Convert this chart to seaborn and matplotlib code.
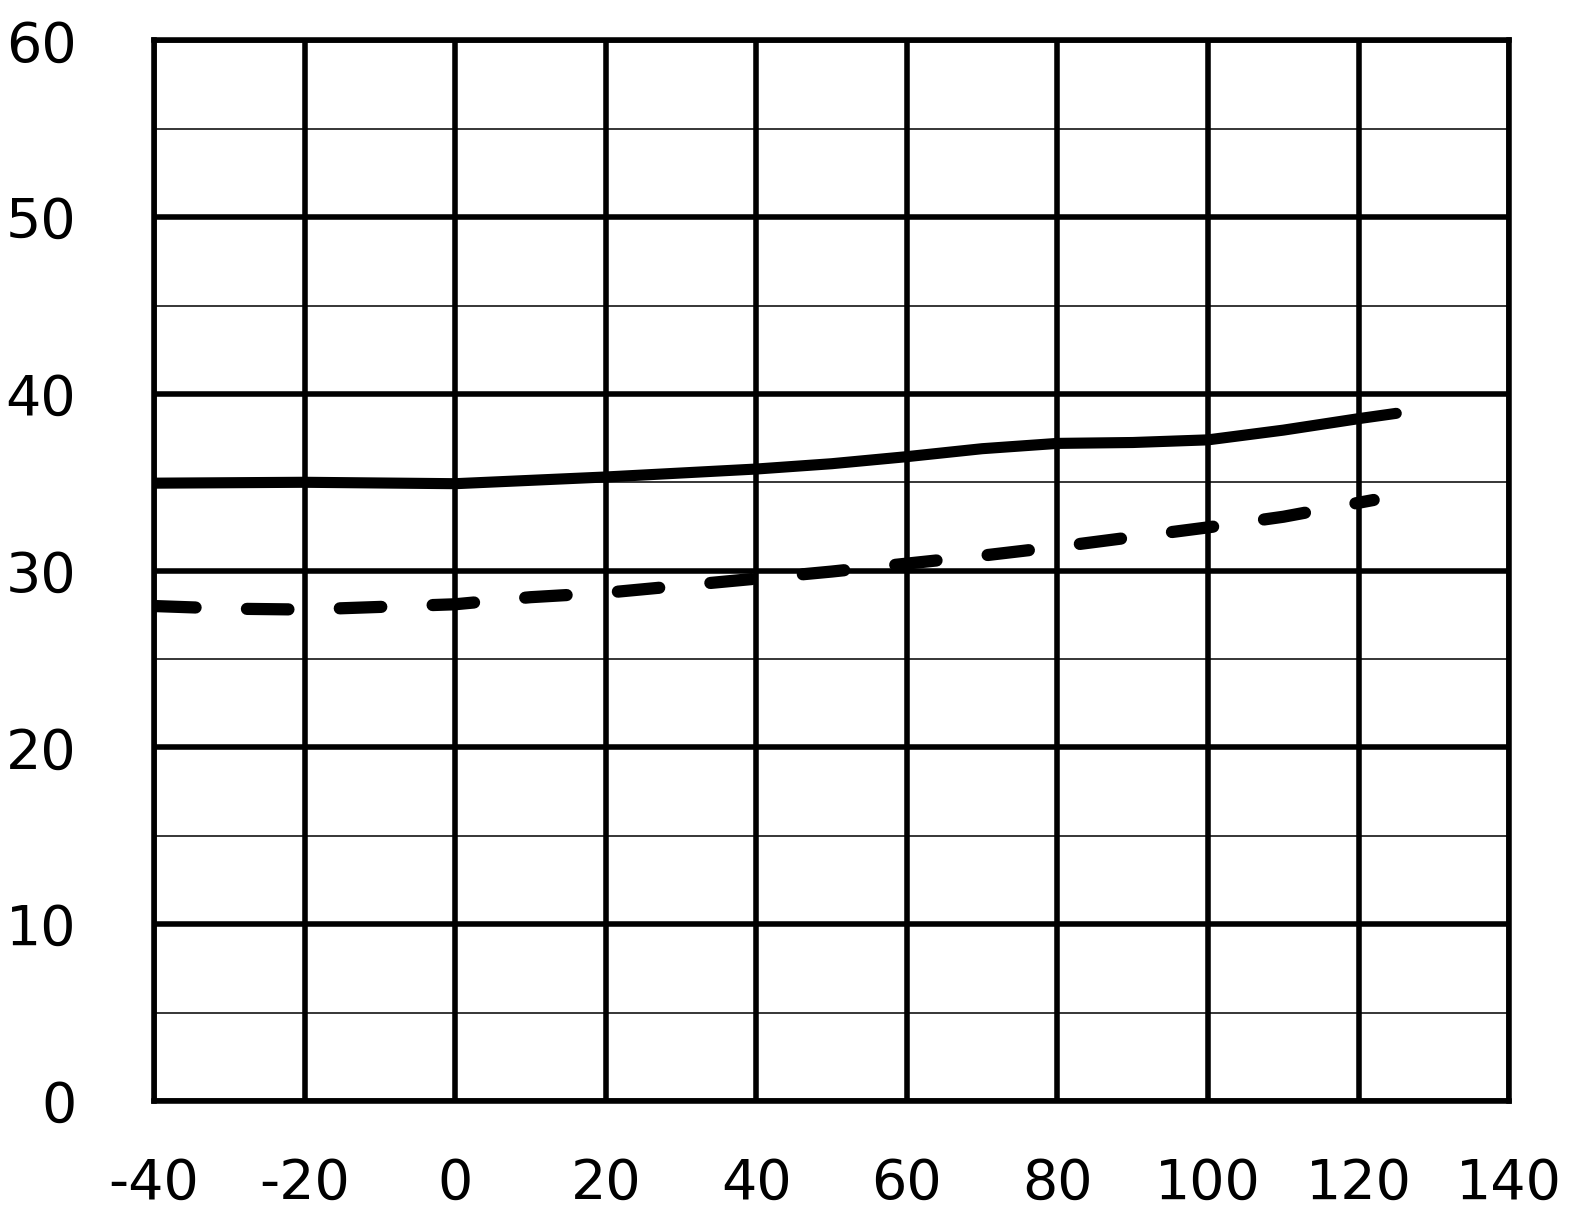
import numpy as np
import pandas as pd
import matplotlib
matplotlib.use("Agg")
import matplotlib.pyplot as plt
import seaborn as sns

# solid curve
solid_x = [-40, -20, 0, 20, 40, 50, 60, 70, 80, 90, 100, 110, 120, 125]
solid_y = [34.95, 35.0, 34.92, 35.3, 35.75, 36.05, 36.45, 36.9, 37.2, 37.25, 37.4, 37.95, 38.6, 38.9]

# dashed curve
dashed_x = [-40, -30, -20, -10, 0, 10, 20, 30, 40, 50, 60, 70, 80, 90, 100, 110, 122]
dashed_y = [28.0, 27.85, 27.8, 27.95, 28.1, 28.5, 28.75, 29.15, 29.55, 29.95, 30.4,
            30.85, 31.35, 31.9, 32.45, 33.05, 34.0]

x_ticks = [-40, -20, 0, 20, 40, 60, 80, 100, 120, 140]
y_ticks = [0, 10, 20, 30, 40, 50, 60]
y_minor = [5, 15, 25, 35, 45, 55]

sns.set_style("white")
plt.rcParams["font.family"] = ["DejaVu Sans"]
plt.rcParams["axes.unicode_minus"] = False

fig = plt.figure(figsize=(15.77, 12.22), dpi=100)
ax = fig.add_axes([0.0977, 0.099, 0.8593, 0.868])

# grid
for v in y_minor:
    ax.axhline(v, color="black", lw=1.1, zorder=1)
for v in y_ticks:
    ax.axhline(v, color="black", lw=4.0, zorder=1)
for v in x_ticks:
    ax.axvline(v, color="black", lw=4.0, zorder=1)

solid = pd.DataFrame({"x": solid_x, "y": solid_y})
dashed = pd.DataFrame({"x": dashed_x, "y": dashed_y})

sns.lineplot(data=solid, x="x", y="y", ax=ax, color="black", lw=8.0,
             solid_capstyle="round", zorder=3)
line = sns.lineplot(data=dashed, x="x", y="y", ax=ax, color="black", lw=8.8,
                    zorder=3).lines[-1]
line.set_dashes([3.4, 4.2])
line.set_dash_capstyle("round")

ax.set_xlim(-40, 140)
ax.set_ylim(0, 60)
ax.set_xticks(x_ticks)
ax.set_yticks(y_ticks)
ax.set_xlabel("")
ax.set_ylabel("")
ax.tick_params(axis="both", length=0, labelsize=40, labelcolor="black")
ax.tick_params(axis="y", pad=56)
ax.tick_params(axis="x", pad=40)
for s in ax.spines.values():
    s.set_visible(True)
    s.set_linewidth(4.0)
    s.set_color("black")
    s.set_zorder(4)
    s.set_joinstyle("round")

fig.savefig("out.png", dpi=100)
